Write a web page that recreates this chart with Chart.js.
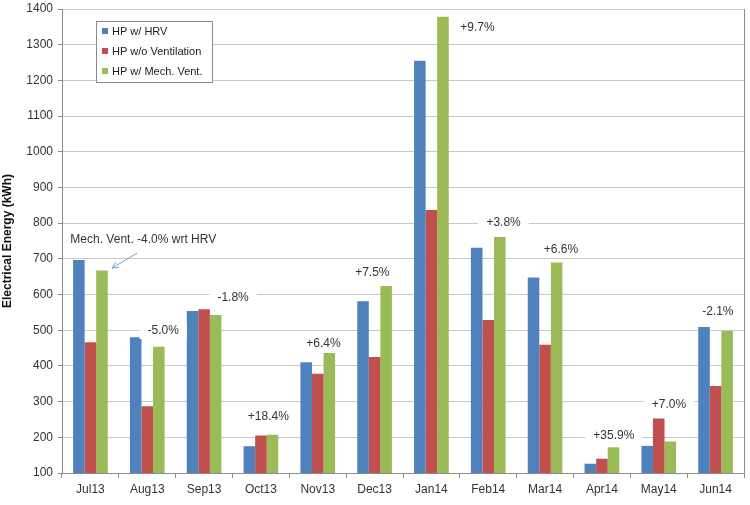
<!DOCTYPE html>
<html>
<head>
<meta charset="utf-8">
<script src="https://cdn.jsdelivr.net/npm/chart.js@4.4.1/dist/chart.umd.min.js"></script>
<style>
html,body{margin:0;padding:0;background:#fff;}
#wrap{width:750px;height:505px;position:relative;}
</style>
</head>
<body>
<div id="wrap"><canvas id="c" width="750" height="505"></canvas></div>
<script>
const categories = ['Jul13','Aug13','Sep13','Oct13','Nov13','Dec13','Jan14','Feb14','Mar14','Apr14','May14','Jun14'];
const seriesNames = ['HP w/ HRV','HP w/o Ventilation','HP w/ Mech. Vent.'];
const hpHRV   = [697, 480, 554, 175, 410, 581, 1255, 731, 648, 126, 176, 509];
const hpNoVent = [466, 287, 559, 205, 378, 425, 837, 529, 459, 140, 253, 344];
const hpMech  = [667, 454, 543, 207, 436, 624, 1378, 761, 690, 172, 188, 498];
const yTicks = [100,200,300,400,500,600,700,800,900,1000,1100,1200,1300,1400];

// Annotation labels (text, category position, value position in kWh)
const annTexts = ['Mech. Vent. -4.0% wrt HRV','-5.0%','-1.8%','+18.4%','+6.4%','+7.5%','+9.7%','+3.8%','+6.6%','+35.9%','+7.0%','-2.1%'];
const annCat   = [0.93, 1.28, 2.51, 3.13, 4.10, 4.96, 6.81, 7.27, 8.28, 9.21, 10.18, 11.04];
const annVal   = [753, 498, 590, 257, 461, 660, 1349, 800, 727, 204, 290, 551];
const arrowFrom = [0.82, 716];
const arrowTo   = [0.38, 674];

const colors = ['#4F81BD','#C0504D','#9BBB59'];
const FONT = '"Liberation Sans", Arial, sans-serif';

const annotPlugin = {
  id: 'annot',
  afterDatasetsDraw(chart) {
    const ctx = chart.ctx, xs = chart.scales.x, ys = chart.scales.y, a = chart.chartArea;
    ctx.save();
    // right border of plot area
    ctx.strokeStyle = '#8c8c8c'; ctx.lineWidth = 1;
    ctx.beginPath(); ctx.moveTo(Math.round(a.right)+0.5, a.top); ctx.lineTo(Math.round(a.right)+0.5, a.bottom); ctx.stroke();

    ctx.font = '12px ' + FONT;
    ctx.textAlign = 'center'; ctx.textBaseline = 'middle';
    for (let i = 0; i < annTexts.length; i++) {
      const x = xs.getPixelForValue(annCat[i]);
      const y = ys.getPixelForValue(annVal[i]);
      const w = ctx.measureText(annTexts[i]).width;
      ctx.save();
      ctx.beginPath(); ctx.rect(a.left + 1, a.top, a.right - a.left - 2, a.bottom - a.top); ctx.clip();
      ctx.fillStyle = '#fff';
      ctx.fillRect(x - w/2 - 8, y - 8, w + 16, 16);
      ctx.restore();
      ctx.fillStyle = '#333';
      ctx.fillText(annTexts[i], x, y);
    }
    // arrow
    const x1 = xs.getPixelForValue(arrowFrom[0]), y1 = ys.getPixelForValue(arrowFrom[1]);
    const x2 = xs.getPixelForValue(arrowTo[0]), y2 = ys.getPixelForValue(arrowTo[1]);
    ctx.strokeStyle = '#6FA0CF'; ctx.lineWidth = 1;
    ctx.beginPath(); ctx.moveTo(x1, y1); ctx.lineTo(x2, y2); ctx.stroke();
    const ang = Math.atan2(y2 - y1, x2 - x1);
    ctx.beginPath();
    ctx.moveTo(x2 - 7*Math.cos(ang - 0.45), y2 - 7*Math.sin(ang - 0.45));
    ctx.lineTo(x2, y2);
    ctx.lineTo(x2 - 7*Math.cos(ang + 0.45), y2 - 7*Math.sin(ang + 0.45));
    ctx.stroke();

    // legend box
    const lx = a.left + 34, ly = a.top + 12, lw = 116, lh = 61;
    ctx.fillStyle = '#fff'; ctx.fillRect(lx, ly, lw, lh);
    ctx.strokeStyle = '#8c8c8c'; ctx.strokeRect(lx + 0.5, ly + 0.5, lw, lh);
    ctx.font = '11px ' + FONT; ctx.textAlign = 'left';
    chart.data.datasets.forEach((ds, i) => {
      const cy = ly + 10 + i * 20;
      ctx.fillStyle = ds.backgroundColor;
      ctx.fillRect(lx + 6, cy - 3, 6, 6);
      ctx.fillStyle = '#222';
      ctx.fillText(ds.label, lx + 16, cy + 0.5);
    });
    ctx.restore();
  }
};

new Chart(document.getElementById('c'), {
  type: 'bar',
  data: {
    labels: categories,
    datasets: [
      { label: seriesNames[0], data: hpHRV, backgroundColor: colors[0] },
      { label: seriesNames[1], data: hpNoVent, backgroundColor: colors[1] },
      { label: seriesNames[2], data: hpMech, backgroundColor: colors[2] }
    ]
  },
  options: {
    responsive: false,
    animation: false,
    devicePixelRatio: 1,
    layout: { padding: { left: 0, right: 6, top: 0, bottom: 0 } },
    datasets: { bar: { categoryPercentage: 0.61, barPercentage: 1.0 } },
    plugins: { legend: { display: false }, tooltip: { enabled: false } },
    scales: {
      x: {
        offset: true,
        grid: { offset: true, drawOnChartArea: false, drawTicks: true, tickLength: 5, color: '#8c8c8c' },
        border: { color: '#8c8c8c' },
        ticks: { font: { family: FONT, size: 12 }, color: '#333', padding: 4, maxRotation: 0 },
        afterFit(s) { s.height = 32; }
      },
      y: {
        min: 100, max: 1400,
        afterBuildTicks(s) { s.ticks = yTicks.map(v => ({ value: v })); },
        grid: { color: '#c8c8c8', tickLength: 4, tickColor: '#8c8c8c' },
        border: { color: '#8c8c8c' },
        ticks: { font: { family: FONT, size: 12, lineHeight: 1.5 }, color: '#333', padding: 5, callback: v => String(v) },
        title: { display: true, text: 'Electrical Energy (kWh)', font: { family: FONT, size: 12, weight: 'bold' }, color: '#111', padding: { top: 0, bottom: 4 } },
        afterFit(s) { s.width = 62; s.paddingTop = 9; }
      }
    }
  },
  plugins: [annotPlugin]
});
</script>
</body>
</html>
